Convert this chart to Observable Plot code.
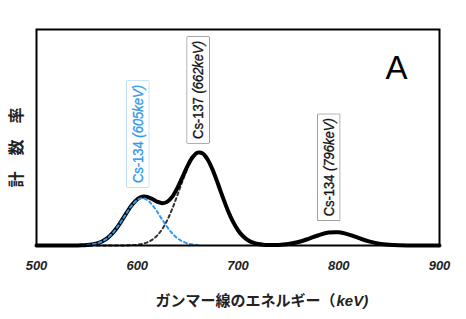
<!DOCTYPE html>
<html>
<head>
<meta charset="utf-8">
<script src="https://cdn.jsdelivr.net/npm/d3@7"></script>
<script src="https://cdn.jsdelivr.net/npm/@observablehq/plot@0.6"></script>
<style>
  html, body { margin: 0; padding: 0; background: white; }
  #chart { width: 466px; height: 319px; }
</style>
</head>
<body>
<div id="chart"></div>
<script>
// Total spectrum (keV, relative count rate)
const energy = [500,510,520,530,540,545,550,555,560,565,570,575,580,585,590,595,600,605,610,615,620,625,630,635,640,645,650,655,660,665,670,675,680,685,690,695,700,705,710,715,720,725,730,740,750,760,770,780,790,800,810,820,830,840,850,860,870,880,890,900];
const totalCounts = [0,0,0,0,0.03,0.08,0.21,0.46,0.96,1.86,3.31,5.46,8.36,11.84,15.55,18.93,21.42,22.64,22.53,21.49,20.22,19.58,20.30,22.75,26.79,31.82,36.88,40.91,43.00,42.60,39.72,34.82,28.68,22.20,16.13,11.03,7.07,4.26,2.41,1.28,0.66,0.33,0.20,0.26,0.70,1.63,3.09,4.76,5.97,6.10,5.06,3.42,1.88,0.84,0.31,0.09,0.02,0,0,0];

// Cs-134 (605 keV) component, blue dashed
const cs134Energy = [550,555,560,565,570,575,580,585,590,595,600,605,610,615,620,625,630,635,640,645,650,655,660];
const cs134Counts = [0.21,0.46,0.96,1.86,3.31,5.46,8.35,11.81,15.48,18.77,21.07,21.9,21.07,18.77,15.48,11.81,8.35,5.46,3.31,1.86,0.96,0.46,0.21];

// Cs-137 (662 keV) component, black dashed
const cs137Energy = [560,570,580,590,595,600,605,610,615,620,625,630,635,640,645,650];
const cs137Counts = [0,0.001,0.01,0.07,0.16,0.35,0.74,1.46,2.72,4.74,7.77,11.95,17.29,23.48,29.96,35.92];

// Annotations
const labelNames = ["Cs-134", "Cs-137", "Cs-134"];
const labelPeaks = ["(605keV)", "(662keV)", "(796keV)"];
const labelX = [601, 661, 790.5];
const labelY = [51.6, 72, 36.2];
const labelColors = ["#3399ee", "#111111", "#111111"];
const labelBorders = ["#8cc4ee", "#555555", "#555555"];

const xTicks = [500, 600, 700, 800, 900];
const xLabelJa = "ガンマー線のエネルギー（";
const xLabelUnit = "keV)";
const yLabel = "計　数　率";
const panelLetter = "A";

const toRows = (xs, ys) => xs.map((x, i) => ({x, y: ys[i]}));
const labels = labelNames.map((n, i) => ({
  text: n + " " + labelPeaks[i], x: labelX[i], y: labelY[i], color: labelColors[i], border: labelBorders[i]
}));

const jaFont = "'Noto Sans CJK JP', 'Noto Sans', sans-serif";
const chart = Plot.plot({
  width: 466,
  height: 319,
  marginLeft: 36,
  marginRight: 27,
  marginTop: 29,
  marginBottom: 74,
  style: {fontFamily: "'Liberation Sans', Arial, sans-serif", background: "white", overflow: "visible"},
  x: {domain: [500, 900]},
  y: {domain: [0, 100], axis: null},
  marks: [
    Plot.axisX({ticks: xTicks, tickSize: 0, tickPadding: 15, fontSize: 13, fontWeight: "bold", fontStyle: "italic", label: null, fill: "#222"}),
    Plot.line(toRows(cs137Energy, cs137Counts), {x: "x", y: "y", curve: "catmull-rom", stroke: "#333", strokeWidth: 2, strokeDasharray: "3,3"}),
    Plot.line(toRows(energy, totalCounts), {x: "x", y: "y", curve: "catmull-rom", stroke: "black", strokeWidth: 4}),
    Plot.line(toRows(cs134Energy, cs134Counts), {x: "x", y: "y", curve: "catmull-rom", stroke: "#3399ee", strokeWidth: 2, strokeDasharray: "3,3"}),
    Plot.frame({stroke: "black", strokeWidth: 2}),
    Plot.text(labels, {x: "x", y: "y", text: "text", fill: "color", stroke: "color", strokeWidth: 0.35, rotate: -90, fontSize: 14}),
    Plot.text([panelLetter], {frameAnchor: "top-right", dx: -43, dy: 39, textAnchor: "middle", lineAnchor: "middle", fontSize: 33, fill: "black"}),
    Plot.text([yLabel], {frameAnchor: "left", dx: -20, dy: 10, rotate: -90, textAnchor: "middle", lineAnchor: "middle", fontSize: 16, fontWeight: "bold", fontFamily: jaFont, fill: "#222"}),
    Plot.text([xLabelJa], {frameAnchor: "bottom-left", dx: 299, dy: 56, textAnchor: "end", lineAnchor: "middle", fontSize: 15, fontWeight: "bold", fontFamily: jaFont, fill: "#222"}),
    Plot.text([xLabelUnit], {frameAnchor: "bottom-left", dx: 300, dy: 56, textAnchor: "start", lineAnchor: "middle", fontSize: 15, fontWeight: "bold", fontStyle: "italic", fill: "#222"})
  ]
});
document.getElementById("chart").append(chart);

// Boxes around the rotated annotations; peak energy in italics, condensed glyphs
const svgNS = "http://www.w3.org/2000/svg";
chart.querySelectorAll("text").forEach(t => {
  const lab = labels.find(l => l.text === t.textContent);
  if (!lab) return;
  const [name, peak] = [t.textContent.split(" ")[0], t.textContent.split(" ")[1]];
  t.textContent = "";
  const a = document.createElementNS(svgNS, "tspan");
  a.textContent = name + " ";
  const b = document.createElementNS(svgNS, "tspan");
  b.textContent = peak;
  b.setAttribute("font-style", "italic");
  t.append(a, b);
  t.setAttribute("textLength", 98);
  t.setAttribute("lengthAdjust", "spacingAndGlyphs");
  t.setAttribute("paint-order", "normal");
  const bb = t.getBBox();
  const padX = 4, padY = 4;
  const r = document.createElementNS(svgNS, "rect");
  r.setAttribute("x", bb.x - padX);
  r.setAttribute("y", bb.y - padY + 1);
  r.setAttribute("width", bb.width + 2 * padX);
  r.setAttribute("height", bb.height + 2 * padY - 2);
  r.setAttribute("fill", "white");
  r.setAttribute("stroke", lab.border);
  r.setAttribute("stroke-width", 1);
  if (t.getAttribute("transform")) r.setAttribute("transform", t.getAttribute("transform"));
  t.parentNode.insertBefore(r, t);
});
</script>
</body>
</html>
